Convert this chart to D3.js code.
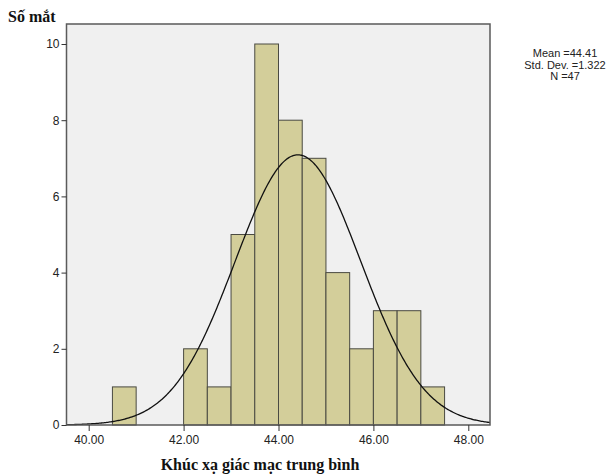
<!DOCTYPE html>
<html><head><meta charset="utf-8">
<script src="https://cdn.jsdelivr.net/npm/d3@7"></script>
<style>body{margin:0;background:#fff}svg{display:block}</style>
</head><body>
<script>
const binStarts = [40.5, 41.0, 42.0, 42.5, 43.0, 43.5, 44.0, 44.5, 45.0, 45.5, 46.0, 46.5, 47.0];
const binCounts = [1, 0, 2, 1, 5, 10, 8, 7, 4, 2, 3, 3, 1];
const binWidth = 0.5;
const xTicks = [40, 42, 44, 46, 48];
const yTicks = [0, 2, 4, 6, 8, 10];
const stats = {mean: 44.41, sd: 1.322, n: 47};
const legendLines = ["Mean =44.41", "Std. Dev. =1.322", "N =47"];

const W = 608, H = 475;
const svg = d3.select("body").append("svg").attr("width", W).attr("height", H);
const L = 66.5, R = 490, T = 24, B = 425;
const x = d3.scaleLinear().domain([40, 48]).range([88.7, 468.3]);
const y = d3.scaleLinear().domain([0, 10]).range([B, 44]);

svg.append("rect").attr("x", L).attr("y", T).attr("width", R - L).attr("height", B - T)
  .attr("fill", "#f0f0f0");

svg.append("g").selectAll("rect").data(binStarts.map((s, i) => ({s, c: binCounts[i]})).filter(d => d.c > 0))
  .join("rect")
  .attr("x", d => x(d.s)).attr("width", d => x(d.s + binWidth) - x(d.s))
  .attr("y", d => y(d.c)).attr("height", d => y(0) - y(d.c))
  .attr("fill", "#d3ce9a").attr("stroke", "#4a4a42").attr("stroke-width", 1);

const xs = d3.range(0, 401).map(i => x.invert(L) + (x.invert(R) - x.invert(L)) * i / 400);
const pdf = v => stats.n * binWidth / (stats.sd * Math.sqrt(2 * Math.PI)) * Math.exp(-0.5 * ((v - stats.mean) / stats.sd) ** 2);
svg.append("path").datum(xs)
  .attr("d", d3.line().x(d => x(d)).y(d => y(pdf(d))))
  .attr("fill", "none").attr("stroke", "#111").attr("stroke-width", 1.3);

svg.append("rect").attr("x", L).attr("y", T).attr("width", R - L).attr("height", B - T)
  .attr("fill", "none").attr("stroke", "#5a5a5a").attr("stroke-width", 1.5);

const yAxis = svg.append("g").attr("transform", `translate(${L},0)`)
  .call(d3.axisLeft(y).tickValues(yTicks).tickSize(5).tickPadding(2).tickFormat(d3.format("d")));
yAxis.select(".domain").remove();
yAxis.selectAll("line").attr("stroke", "#333");
yAxis.selectAll("text").attr("font-family", "Liberation Sans, Arial, sans-serif").attr("font-size", 12).attr("fill", "#222");

const xAxis = svg.append("g").attr("transform", `translate(0,${B})`)
  .call(d3.axisBottom(x).tickValues(xTicks).tickSize(6).tickPadding(4).tickFormat(d3.format(".2f")));
xAxis.select(".domain").remove();
xAxis.selectAll("line").attr("stroke", "#333");
xAxis.selectAll("text").attr("font-family", "Liberation Sans, Arial, sans-serif").attr("font-size", 12).attr("fill", "#222");

svg.append("text").attr("x", 8).attr("y", 22).text("Số mắt")
  .attr("font-family", "Liberation Serif, Times New Roman, serif").attr("font-weight", "bold").attr("font-size", 16).attr("fill", "#111");
svg.append("text").attr("x", 260).attr("y", 470).attr("text-anchor", "middle").text("Khúc xạ giác mạc trung bình")
  .attr("font-family", "Liberation Serif, Times New Roman, serif").attr("font-weight", "bold").attr("font-size", 16).attr("fill", "#111");

svg.append("g").selectAll("text").data(legendLines).join("text")
  .attr("x", 565).attr("y", (d, i) => 57 + i * 11.5).attr("text-anchor", "middle")
  .attr("font-family", "Liberation Sans, Arial, sans-serif").attr("font-size", 11).attr("fill", "#222").text(d => d);
</script>
</body></html>
